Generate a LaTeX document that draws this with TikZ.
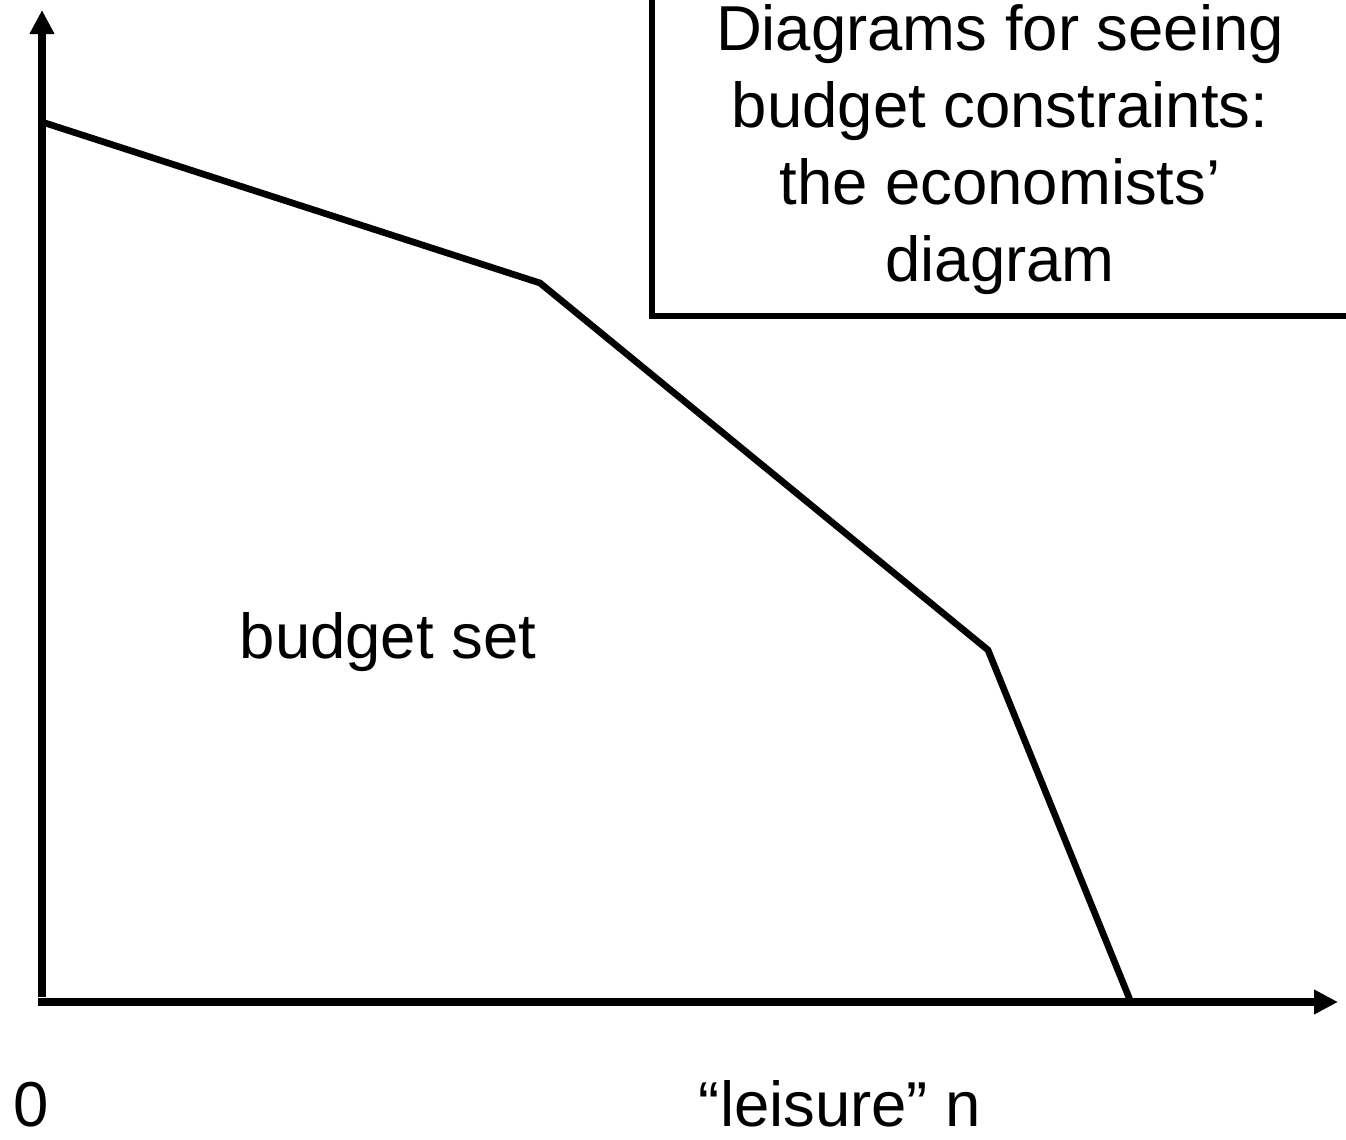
\documentclass[tikz,border=0pt]{standalone}
\usepackage{fontspec}
\setmainfont{Liberation Sans}
\usetikzlibrary{arrows.meta}
\begin{document}
\begin{tikzpicture}[x=0.75pt,y=-0.75pt,
  axis/.style={line width=6pt,-{Triangle[length=18pt,width=17.5pt]}},
  budgetline/.style={line width=5pt,line join=miter},
  boxline/.style={line width=5.2pt},
  lbl/.style={inner sep=0pt,font=\fontsize{47.6pt}{57.75pt}\selectfont}]
\useasboundingbox (0,0) rectangle (1346,1139);
\clip (0,0) rectangle (1346,1139);
% axes
\coordinate (Ytop) at (42,10);
\coordinate (Yfoot) at (42,997);
\coordinate (Xstart) at (38,1002);
\coordinate (Xend) at (1338,1002);
\draw[axis] (Yfoot) -- (Ytop);
\draw[axis] (Xstart) -- (Xend);
% budget constraint
\coordinate (A) at (42,122);
\coordinate (B) at (540,283);
\coordinate (C) at (988,650);
\coordinate (D) at (1130,1000);
\draw[budgetline] (A) -- (B) -- (C) -- (D);
% title box
\coordinate (T1) at (652,-20);
\coordinate (T2) at (652,316);
\coordinate (T3) at (1366,316);
\draw[boxline] (T1) -- (T2) -- (T3);
\node[lbl,anchor=base,align=center] (title) at (1000,281)
  {Diagrams for seeing\\budget constraints:\\the economists’\\diagram};
% labels
\node[lbl,anchor=base] (bset) at (388,658) {budget set};
\node[lbl,anchor=base] (zero) at (31,1126) {0};
\node[lbl,anchor=base] (leis) at (840,1126) {“leisure” n};
\end{tikzpicture}
\end{document}
